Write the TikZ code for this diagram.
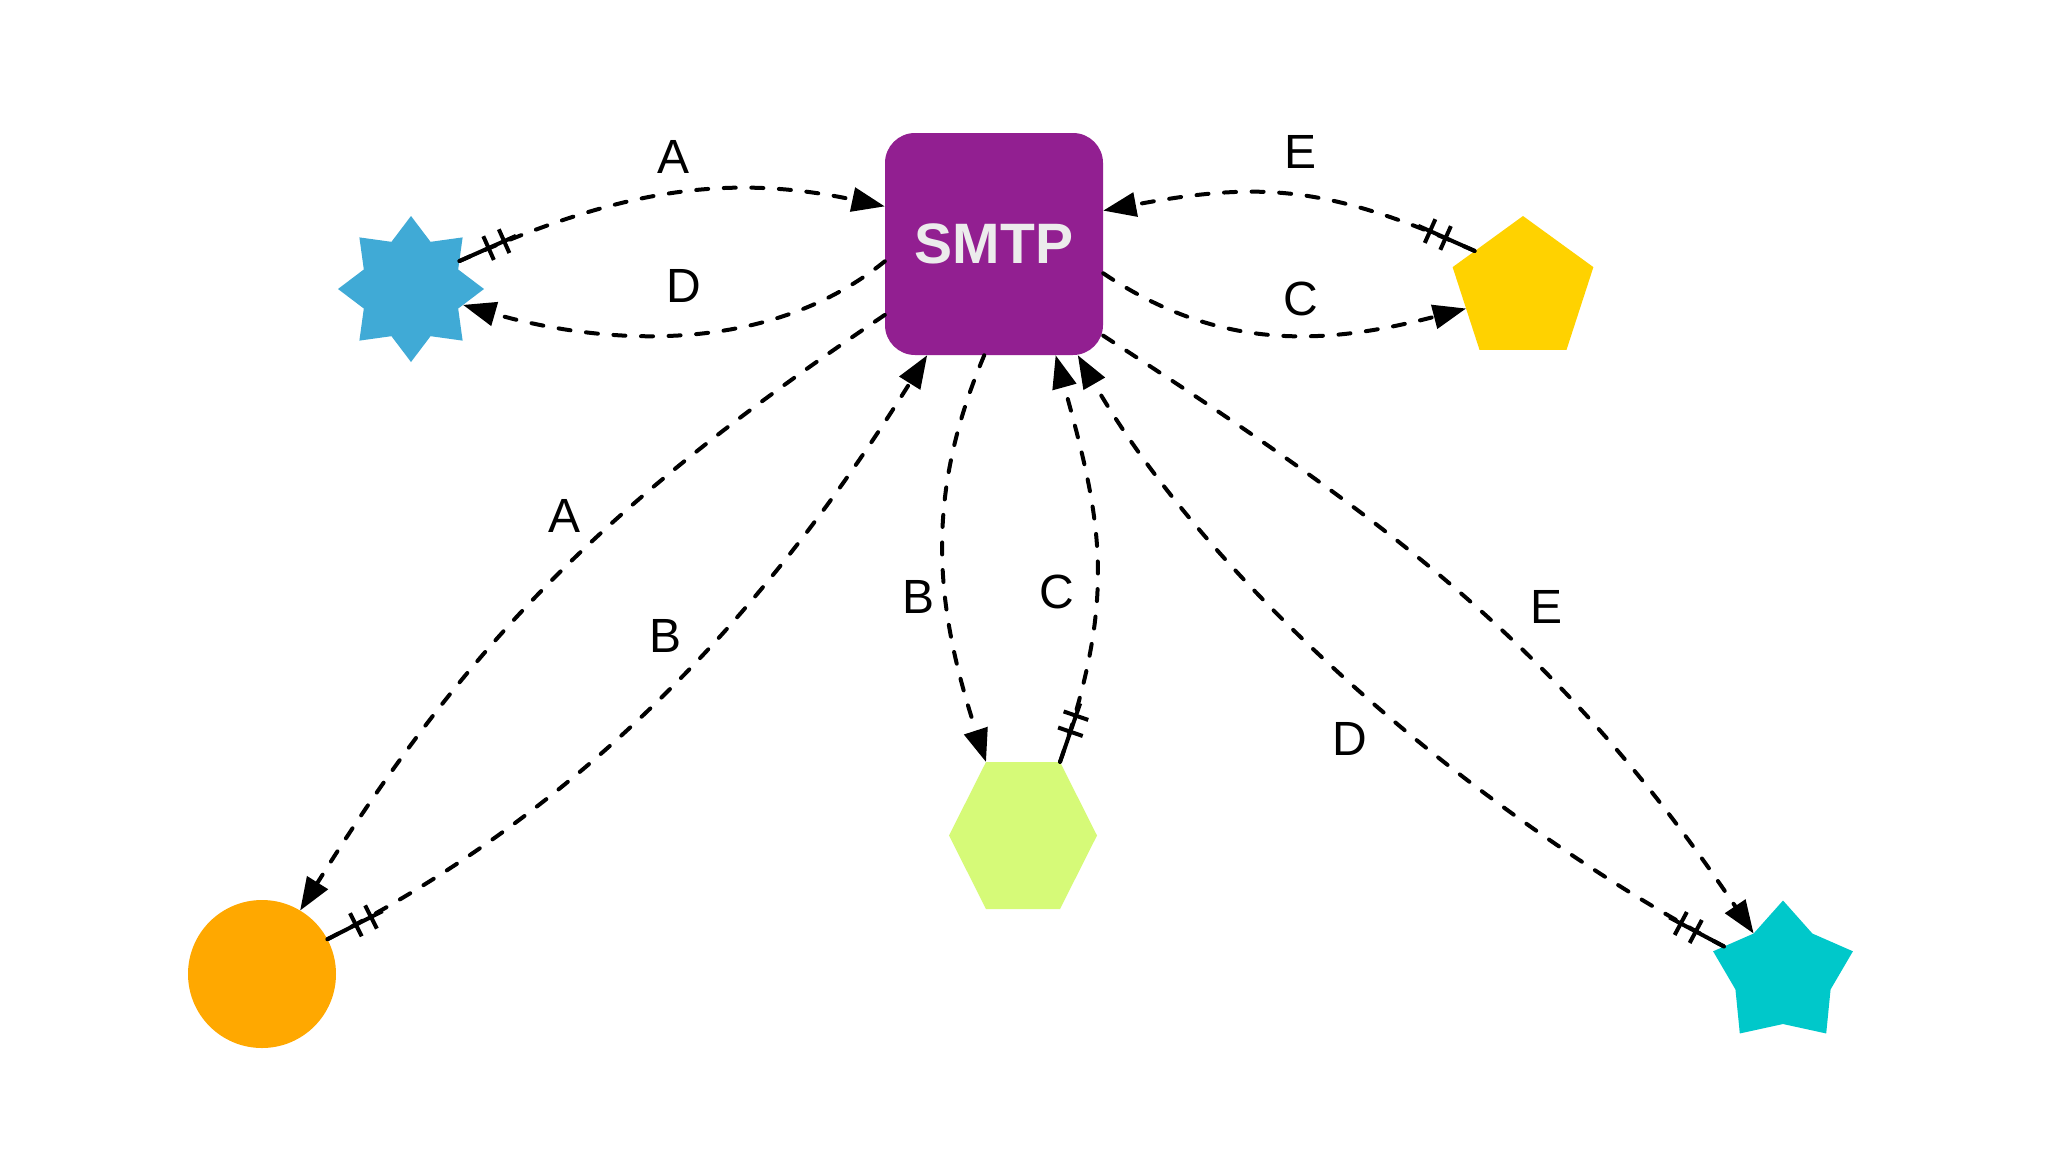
\documentclass[tikz,border=0pt]{standalone}
\usepackage{fontspec}
\setmainfont{Liberation Sans}
\usetikzlibrary{arrows.meta,shapes.geometric,decorations.markings}
\definecolor{smtpc}{RGB}{146,31,145}
\definecolor{smtptext}{RGB}{236,236,236}
\definecolor{bluec}{RGB}{64,170,214}
\definecolor{yellowc}{RGB}{255,210,0}
\definecolor{limec}{RGB}{214,250,120}
\definecolor{orangec}{RGB}{255,168,0}
\definecolor{tealc}{RGB}{0,200,202}
\tikzset{
  smtpbox/.style={rectangle, rounded corners=30pt, fill=smtpc, minimum width=218pt, minimum height=222pt, inner sep=0pt, text=smtptext, font=\fontsize{57}{60}\selectfont\bfseries},
  shapebase/.style={inner sep=0pt, outer sep=0pt, draw=none},
  lbl/.style={font=\fontsize{48}{56}\selectfont, inner sep=0pt},
  edge/.style={draw, line width=4pt, line cap=round, dash pattern=on 12pt off 15.6pt, -{Triangle[length=33pt,width=24pt]}},
  ticks/.style={postaction={decorate}, decoration={markings,
    mark=at position 0pt with {
      \draw[-, solid, line width=4pt, line cap=butt] (0pt,0pt) -- (62pt,0pt);
      \draw[-, solid, line width=4pt, line cap=butt] (32pt,-13pt) -- (32pt,13pt);
      \draw[-, solid, line width=4pt, line cap=butt] (49pt,-13pt) -- (49pt,13pt);
    }}}
}
\begin{document}
\begin{tikzpicture}[x=1pt,y=-1pt]
\useasboundingbox (0,0) rectangle (2048,1152);
\fill[white] (0,0) rectangle (2048,1152);

% nodes
\node[smtpbox] (smtp) at (994,244) {SMTP};
\node[shapebase, star, star points=8, star point ratio=1.43, minimum size=146pt, fill=bluec] (blue) at (411,289) {};
\node[shapebase, regular polygon, regular polygon sides=5, minimum size=148pt, fill=yellowc] (pent) at (1523,290) {};
\node[shapebase, regular polygon, regular polygon sides=6, minimum size=148pt, fill=limec, yscale=1.147, transform shape] (hex) at (1023,835.5) {};
\node[shapebase, circle, minimum size=148pt, fill=orangec] (circ) at (262,974) {};
\node[shapebase, star, star points=5, star point ratio=1.47, minimum size=147pt, fill=tealc] (teal) at (1783,974) {};

% edges
\draw[edge,ticks] (blue.30) to[out=24,in=168] (smtp.161);
\draw[edge] (smtp.189) to[out=219,in=344,looseness=0.9] (blue.343);
\draw[edge,ticks] (pent.141) to[out=156,in=10.6,looseness=1.1] (smtp.17);
\draw[edge] (smtp.345) to[out=-34,in=194.6] (pent.198);
\draw[edge] (smtp.213) to[out=214,in=58] (circ.59);
\draw[edge,ticks] (circ.28) to[out=27,in=238,looseness=0.9] (smtp.239);
\draw[edge] (smtp.265) to[out=247,in=108] (hex.120);
\draw[edge,ticks] (hex.60) to[out=71,in=285.5,looseness=1.1] (smtp.299);
\draw[edge,ticks] (teal.155) to[out=152,in=300,looseness=0.8] (smtp.307);
\draw[edge] (smtp.320) to[out=-33,in=124] (teal.126);

% labels
\node[lbl] (lA1) at (674,157) {A};
\node[lbl] (lD1) at (684,286) {D};
\node[lbl] (lE1) at (1300,152) {E};
\node[lbl] (lC1) at (1301,299) {C};
\node[lbl] (lA2) at (565,516) {A};
\node[lbl] (lB2) at (665,636) {B};
\node[lbl] (lB3) at (918,597) {B};
\node[lbl] (lC3) at (1057,592) {C};
\node[lbl] (lD4) at (1350,739) {D};
\node[lbl] (lE4) at (1546,607) {E};
\end{tikzpicture}
\end{document}
